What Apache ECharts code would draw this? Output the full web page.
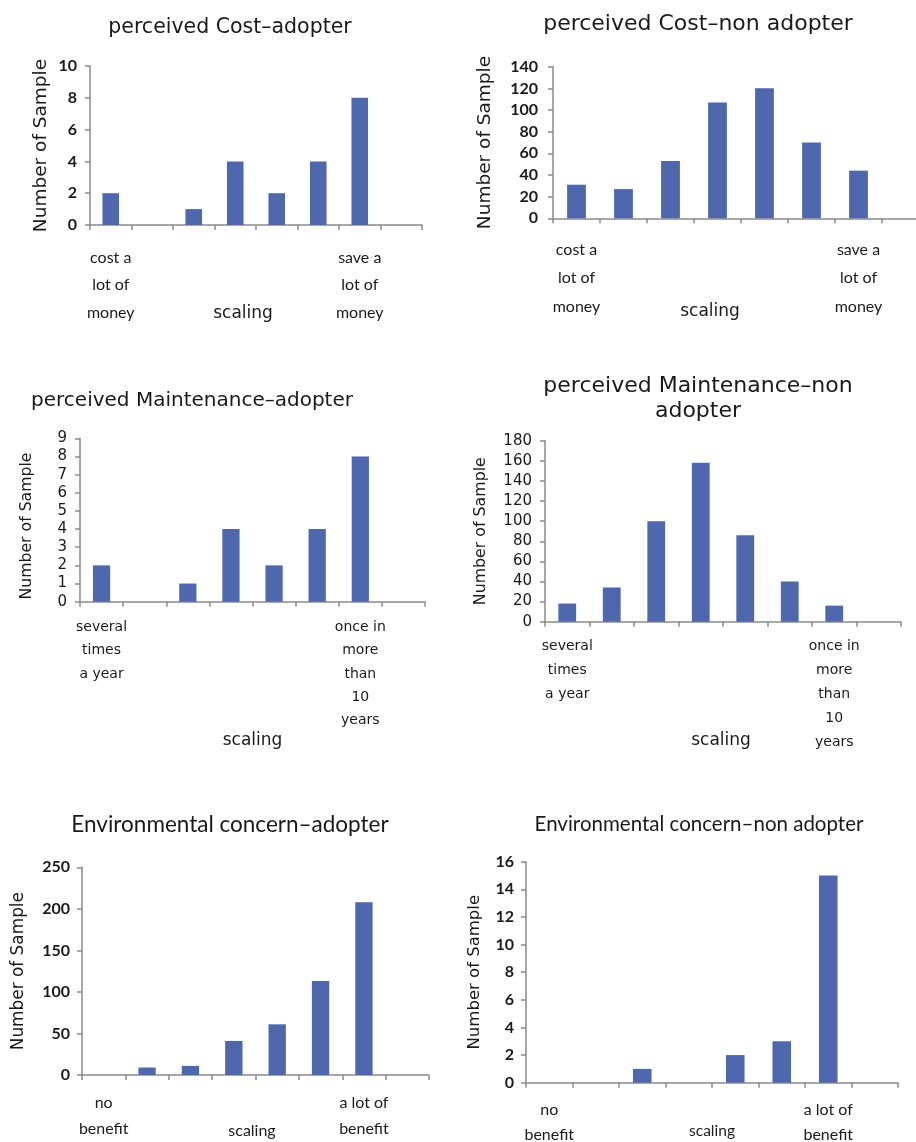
<!DOCTYPE html>
<html>
<head>
<meta charset="utf-8">
<title>perceived cost / maintenance / environmental concern</title>
<script src="https://cdn.jsdelivr.net/npm/echarts@6/dist/echarts.min.js"></script>
<style>
  html, body { margin: 0; padding: 0; background: #fff; }
  #chart { width: 916px; height: 1142px; }
</style>
</head>
<body>
<div id="chart"></div>
<script>
// categories (8 scale slots, the last one is always empty)
const slots = ["1", "2", "3", "4", "5", "6", "7", "8"];

// tick labels under the x axis
const costLabels = ["cost a\nlot of\nmoney", "", "", "", "", "", "save a\nlot of\nmoney", ""];
const maintLabels = ["several\ntimes\na year", "", "", "", "", "", "once in\nmore\nthan\n10\nyears", ""];
const envLabels = ["no\nbenefit", "", "", "", "", "", "a lot of\nbenefit", ""];

// series values (number of samples)
const costAdopter = [2, 0, 1, 4, 2, 4, 8, 0];
const costNonAdopter = [31, 27, 53, 107, 120, 70, 44, 0];
const maintAdopter = [2, 0, 1, 4, 2, 4, 8, 0];
const maintNonAdopter = [18, 34, 100, 158, 86, 40, 16, 0];
const envAdopter = [0, 9, 11, 41, 61, 113, 208, 0];
const envNonAdopter = [0, 0, 1, 0, 2, 3, 15, 0];

const BAR = "#4e67ad";
const AXIS = "#8a8a8a";
const TXT = "#1a1a1a";

// one config per panel: data + where it sits on the page
const panels = [
  {
    title: "perceived Cost\u2013adopter", tx: 230, ty: 16, tFont: "DejaVu Sans", tSize: 20.5,
    grid: { left: 90, top: 66, width: 332, height: 159 },
    data: costAdopter, labels: costLabels, max: 10, interval: 2,
    lFont: "Lato", lSize: 16, lh: 27.5, lMargin: 19,
    tickFont: "Lato", tickSize: 16, tickWeight: "bold", tickMargin: 13,
    sFont: "DejaVu Sans", sSize: 17, sGap: 80, sPad: [0, 26, 0, 0],
    yName: 18.5, yGap: 39, yPad: [0, 0, 0, 0]
  },
  {
    title: "perceived Cost\u2013non adopter", tx: 698, ty: 12, tFont: "DejaVu Sans", tSize: 22,
    grid: { left: 553, top: 66.7, width: 376, height: 151.6 },
    data: costNonAdopter, labels: costLabels, max: 140, interval: 20,
    lFont: "Lato", lSize: 16, lh: 28.5, lMargin: 17,
    tickFont: "Lato", tickSize: 16, tickWeight: "bold", tickMargin: 15,
    sFont: "DejaVu Sans", sSize: 17, sGap: 85, sPad: [0, 62, 0, 0],
    yName: 18.5, yGap: 58, yPad: [0, 0, 0, 0]
  },
  {
    title: "perceived Maintenance\u2013adopter", tx: 192, ty: 389, tFont: "DejaVu Sans", tSize: 20,
    grid: { left: 80, top: 438.3, width: 345, height: 163.4 },
    data: maintAdopter, labels: maintLabels, max: 9, interval: 1,
    lFont: "DejaVu Sans", lSize: 14, lh: 23.3, lMargin: 14,
    tickFont: "DejaVu Sans", tickSize: 15, tickWeight: "normal", tickMargin: 13,
    sFont: "DejaVu Sans", sSize: 17, sGap: 130, sPad: [0, 0, 0, 0],
    yName: 15.7, yGap: 45, yPad: [0, 12, 0, 0]
  },
  {
    title: "perceived Maintenance\u2013non\nadopter", tx: 698, ty: 374, tFont: "DejaVu Sans", tSize: 22,
    grid: { left: 545, top: 440.7, width: 356, height: 181 },
    data: maintNonAdopter, labels: maintLabels, max: 180, interval: 20,
    lFont: "DejaVu Sans", lSize: 14, lh: 24, lMargin: 13,
    tickFont: "DejaVu Sans", tickSize: 15, tickWeight: "normal", tickMargin: 13,
    sFont: "DejaVu Sans", sSize: 17, sGap: 110, sPad: [0, 4, 0, 0],
    yName: 15.8, yGap: 56, yPad: [0, 0, 0, 0]
  },
  {
    title: "Environmental concern\u2013adopter", tx: 230, ty: 812, tFont: "Lato", tSize: 22.5,
    grid: { left: 82, top: 867.3, width: 347, height: 207.7 },
    data: envAdopter, labels: envLabels, max: 250, interval: 50,
    lFont: "Lato", lSize: 16, lh: 26, lMargin: 15,
    tickFont: "Lato", tickSize: 16, tickWeight: "bold", tickMargin: 12,
    sFont: "Lato", sSize: 16, sGap: 48, sPad: [0, 7, 0, 0],
    yName: 16.9, yGap: 55, yPad: [0, 0, 0, 0]
  },
  {
    title: "Environmental concern\u2013non adopter", tx: 699, ty: 813, tFont: "Lato", tSize: 20.5,
    grid: { left: 526, top: 861.7, width: 372, height: 221 },
    data: envNonAdopter, labels: envLabels, max: 16, interval: 2,
    lFont: "Lato", lSize: 16, lh: 25, lMargin: 15,
    tickFont: "Lato", tickSize: 16, tickWeight: "bold", tickMargin: 12,
    sFont: "Lato", sSize: 15.5, sGap: 40, sPad: [0, 0, 0, 0],
    yName: 16.5, yGap: 43, yPad: [0, 0, 0, 0]
  }
];

const option = {
  animation: false,
  backgroundColor: "#fff",
  title: [],
  grid: [],
  xAxis: [],
  yAxis: [],
  series: []
};

panels.forEach(function (p, i) {
  option.title.push({
    text: p.title,
    left: p.tx,
    top: p.ty,
    textAlign: "center",
    padding: 0,
    textStyle: {
      fontFamily: p.tFont,
      fontSize: p.tSize,
      fontWeight: "normal",
      color: TXT,
      lineHeight: p.tSize + 3
    }
  });
  option.grid.push(Object.assign({ outerBoundsMode: "none", containLabel: false }, p.grid));
  option.xAxis.push({
    type: "category",
    gridIndex: i,
    data: slots,
    name: "scaling",
    nameLocation: "middle",
    nameGap: p.sGap,
    nameMoveOverlap: false, // keep "scaling" level with the labels like the original
    nameTextStyle: {
      fontFamily: p.sFont,
      fontSize: p.sSize,
      color: TXT,
      padding: p.sPad
    },
    axisLine: { lineStyle: { color: AXIS, width: 1.5 } },
    axisTick: { show: true, length: 5, lineStyle: { color: AXIS, width: 1.5 } },
    axisLabel: {
      interval: 0,
      margin: p.lMargin,
      fontFamily: p.lFont,
      fontSize: p.lSize,
      lineHeight: p.lh,
      color: TXT,
      formatter: function (v, idx) { return p.labels[idx]; }
    },
    splitLine: { show: false }
  });
  option.yAxis.push({
    type: "value",
    gridIndex: i,
    min: 0,
    max: p.max,
    interval: p.interval,
    name: "Number of Sample",
    nameLocation: "middle",
    nameGap: p.yGap,
    nameMoveOverlap: false,
    nameTextStyle: {
      fontFamily: "DejaVu Sans",
      fontSize: p.yName,
      color: TXT,
      padding: p.yPad
    },
    axisLine: { show: true, lineStyle: { color: AXIS, width: 1.5 } },
    axisTick: { show: true, length: 5, lineStyle: { color: AXIS, width: 1.5 } },
    axisLabel: {
      margin: p.tickMargin,
      fontFamily: p.tickFont,
      fontSize: p.tickSize,
      fontWeight: p.tickWeight,
      color: TXT
    },
    splitLine: { show: false }
  });
  option.series.push({
    type: "bar",
    xAxisIndex: i,
    yAxisIndex: i,
    data: p.data,
    barWidth: "40%",
    itemStyle: { color: BAR }
  });
});

const chart = echarts.init(document.getElementById("chart"));
chart.setOption(option);
</script>
</body>
</html>
